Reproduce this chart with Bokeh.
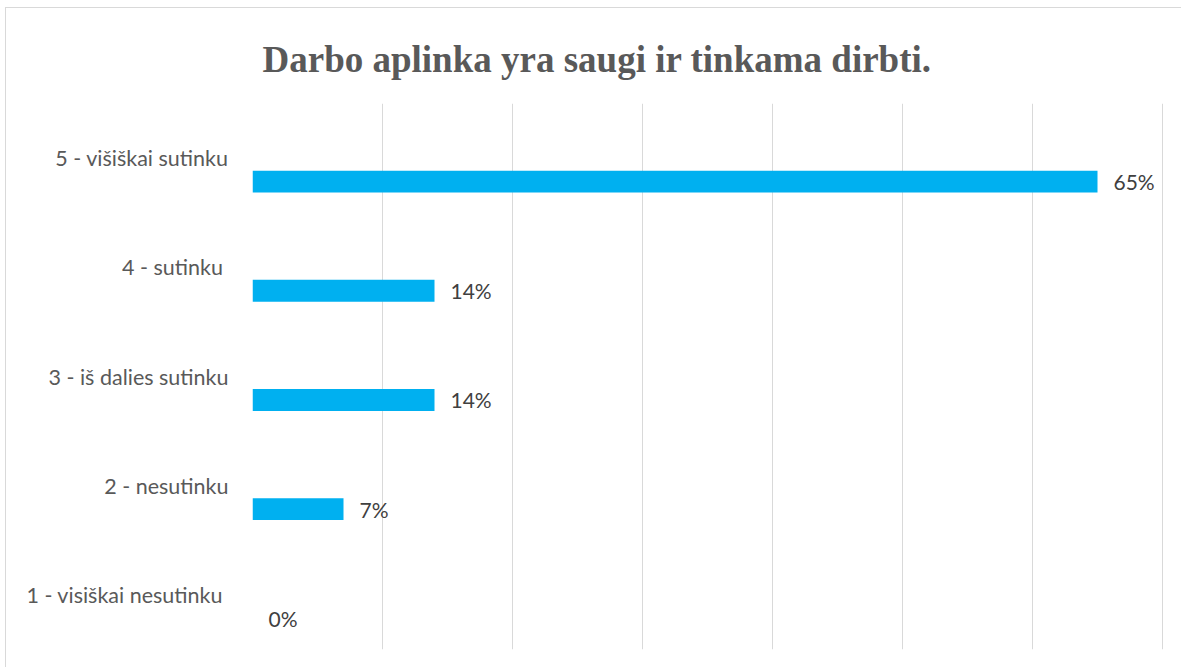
from bokeh.plotting import figure
from bokeh.models import FactorRange, Range1d, FixedTicker, ColumnDataSource
from bokeh.transform import dodge
from bokeh.core.properties import value
from bokeh.embed import file_html
from bokeh.resources import INLINE

categories = ["1 -  visiškai nesutinku", "2 - nesutinku", "3 - iš dalies sutinku",
              "4 - sutinku ", "5 - višiškai sutinku"]
values = [0.0, 0.07, 0.14, 0.14, 0.65]
labels = ["0%", "7%", "14%", "14%", "65%"]
grid_ticks = [0.0, 0.1, 0.2, 0.3, 0.4, 0.5, 0.6, 0.7]

src = ColumnDataSource(dict(cat=categories, val=values, lab=labels))

p = figure(width=1176, height=660, output_backend="svg", toolbar_location=None,
           y_range=FactorRange(factors=categories), x_range=Range1d(0, 0.7 + 1 / 1300),
           x_axis_location=None, min_border_left=246, min_border_right=19,
           min_border_top=95, min_border_bottom=19)

p.title.text = "Darbo aplinka yra saugi ir tinkama dirbti."
p.title.text_font = "Liberation Serif"
p.title.text_font_style = "bold"
p.title.text_font_size = "37px"
p.title.text_color = "#595959"
p.title.align = "left"
p.title.offset = 10
p.title.standoff = 48

p.outline_line_color = None
p.xgrid.ticker = FixedTicker(ticks=grid_ticks)
p.xgrid.grid_line_color = "#d9d9d9"
p.xgrid.grid_line_width = 1
p.ygrid.grid_line_color = None

p.yaxis.axis_line_color = None
p.yaxis.major_tick_line_color = None
p.yaxis.minor_tick_line_color = None
p.yaxis.major_tick_out = 0
p.yaxis.major_label_standoff = 24
p.yaxis.major_label_text_font = "Lato"
p.yaxis.major_label_text_font_size = "21.5px"
p.yaxis.major_label_text_color = "#595959"

ybar = dodge("cat", -0.215, range=p.y_range)
p.hbar(y=ybar, left=0, right="val", height=0.2, source=src,
       fill_color="#00B0F0", line_color=None)
p.text(x="val", y=ybar, text="lab", source=src, x_offset=16,
       text_baseline="middle", text_align="left",
       text_font=value("Lato"), text_font_size="21px", text_color="#404040")

p.styles = {"border-top": "1px solid #d9d9d9", "border-left": "1px solid #d9d9d9",
            "margin-left": "5px", "margin-top": "7px"}

open("out.html", "w").write(file_html(p, INLINE))
